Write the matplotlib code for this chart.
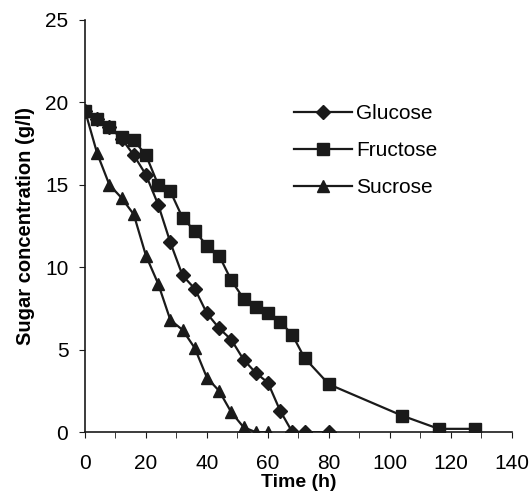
import numpy as np
import matplotlib
matplotlib.use("Agg")
import matplotlib.pyplot as plt

plt.rcParams['font.family'] = ['Liberation Sans', 'DejaVu Sans']

# sampling times (h) and concentrations (g/l)
t_glucose = [0, 4, 8, 12, 16, 20, 24, 28, 32, 36, 40, 44, 48, 52, 56, 60, 64, 68, 72, 80]
glucose = [19.5, 19.0, 18.5, 17.8, 16.8, 15.6, 13.8, 11.5, 9.5, 8.7, 7.2, 6.3, 5.6, 4.4, 3.6, 3.0, 1.3, 0, 0, 0]

t_fructose = [0, 4, 8, 12, 16, 20, 24, 28, 32, 36, 40, 44, 48, 52, 56, 60, 64, 68, 72, 80, 104, 116, 128]
fructose = [19.5, 19.0, 18.5, 17.9, 17.7, 16.8, 15.0, 14.6, 13.0, 12.2, 11.3, 10.7, 9.2, 8.1, 7.6, 7.2, 6.7, 5.9,
            4.5, 2.9, 1.0, 0.2, 0.2]

t_sucrose = [0, 4, 8, 12, 16, 20, 24, 28, 32, 36, 40, 44, 48, 52, 56, 60]
sucrose = [19.5, 16.9, 15.0, 14.2, 13.2, 10.7, 9.0, 6.8, 6.2, 5.1, 3.3, 2.5, 1.2, 0.3, 0, 0]

ink = '#1a1a1a'

fig = plt.figure(figsize=(5.31, 4.95), dpi=100)
ax = fig.add_axes([0.160, 0.127, 0.804, 0.833])

ax.plot(t_glucose, glucose, color=ink, lw=1.6, marker='D', ms=7.5, label='Glucose')
ax.plot(t_fructose, fructose, color=ink, lw=1.6, marker='s', ms=8.5, label='Fructose')
ax.plot(t_sucrose, sucrose, color=ink, lw=1.6, marker='^', ms=9, label='Sucrose')

ax.set_xlim(0, 140)
ax.set_ylim(0, 25)
ax.set_xticks(np.arange(0, 141, 20))
ax.set_xticks(np.arange(0, 141, 10), minor=True)
ax.set_yticks(np.arange(0, 26, 5))

for s in ['top', 'right']:
    ax.spines[s].set_visible(False)
for s in ['left', 'bottom']:
    ax.spines[s].set_color(ink)
    ax.spines[s].set_linewidth(1.2)

ax.tick_params(which='both', direction='out', length=4, color=ink, labelsize=15, pad=8)
ax.tick_params(axis='x', which='major', pad=12)

ax.set_xlabel('Time (h)', fontsize=14, fontweight='bold', labelpad=0.5)
ax.set_ylabel('Sugar concentration (g/l)', fontsize=14.5, fontweight='bold', labelpad=7)

ax.legend(loc='upper left', bbox_to_anchor=(0.47, 0.815), frameon=False, fontsize=15,
          handlelength=2.8, handletextpad=0.2, labelspacing=0.85, borderaxespad=0)

fig.savefig('out.png', dpi=100)
